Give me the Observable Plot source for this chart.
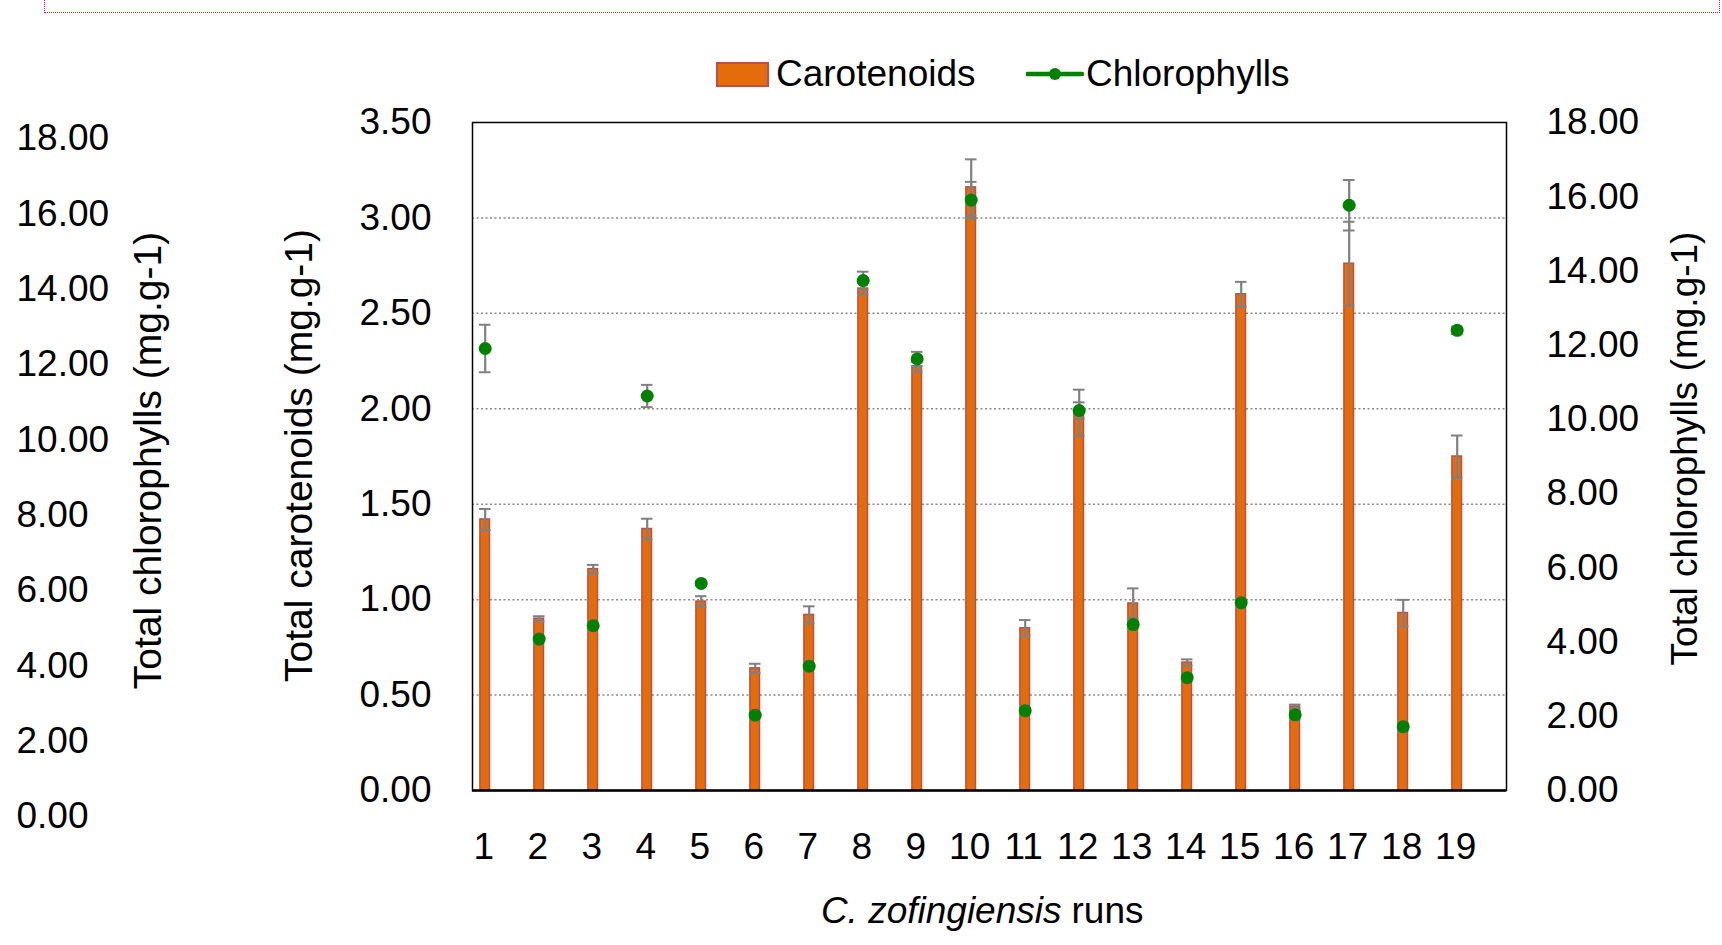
<!DOCTYPE html>
<html>
<head>
<meta charset="utf-8">
<script src="https://cdn.jsdelivr.net/npm/d3@7"></script>
<script src="https://cdn.jsdelivr.net/npm/@observablehq/plot@0.6"></script>
<style>
  html, body { margin: 0; padding: 0; background: white; }
  #wrap { position: relative; width: 1722px; height: 945px; overflow: hidden; font-family: "Liberation Sans", Arial, sans-serif; }
  #redbox { position: absolute; left: 44px; top: -4px; width: 1674px; height: 16px; border: 1.5px dotted #e02020; border-top: none; }
  #legend { position: absolute; left: 0; top: 50px; height: 48px; width: 1722px; font-size: 37px; color: #000; }
  .leg { position: absolute; top: 0; height: 48px; display: flex; align-items: center; white-space: nowrap; }
  #leftaxis { position: absolute; left: 0; top: 0; pointer-events: none; }
  #main { position: absolute; left: 0; top: 0; }
</style>
</head>
<body>
<div id="wrap">
  <div id="main"></div>
  <div id="leftaxis"></div>
  <div id="redbox"></div>
  <div id="legend"></div>
</div>
<script>
// ---- data ----
const runs = [1, 2, 3, 4, 5, 6, 7, 8, 9, 10, 11, 12, 13, 14, 15, 16, 17, 18, 19];
const carotenoids = [1.42, 0.90, 1.16, 1.37, 0.99, 0.64, 0.92, 2.63, 2.22, 3.16, 0.85, 1.98, 0.98, 0.67, 2.60, 0.44, 2.76, 0.93, 1.75];
const carotenoidsErr = [0.055, 0.013, 0.022, 0.054, 0.028, 0.024, 0.045, 0.03, 0.025, 0.147, 0.043, 0.12, 0.079, 0.017, 0.065, 0.01, 0.22, 0.069, 0.11];
const chlorophylls = [11.91, 4.08, 4.44, 10.63, 5.58, 2.03, 3.35, 13.74, 11.63, 15.91, 2.15, 10.24, 4.47, 3.04, 5.06, 2.04, 15.77, 1.72, 12.40];
const chlorophyllsErr = [0.64, 0.05, 0.05, 0.30, 0.05, 0.05, 0.05, 0.24, 0.19, 0.49, 0.05, 0.22, 0.10, 0.05, 0.05, 0.10, 0.68, 0.10, 0.10];
const carTicks = [0, 0.5, 1.0, 1.5, 2.0, 2.5, 3.0, 3.5];
const chlTicks = [0, 2, 4, 6, 8, 10, 12, 14, 16, 18];
const seriesNames = ["Carotenoids", "Chlorophylls"];
const yTitleLeft = "Total carotenoids (mg.g-1)";
const yTitleRight = "Total chlorophylls (mg.g-1)";
const xTitleItalic = "C. zofingiensis";
const xTitleRest = "runs";

const rows = runs.map((r, i) => ({
  run: r,
  car: carotenoids[i], carErr: carotenoidsErr[i],
  chl: chlorophylls[i], chlErr: chlorophyllsErr[i]
}));

const orange = "#e46c0a", barStroke = "#b9504c", green = "#008000", errGray = "#808080";
const chlMax = 18, carMax = 3.5;
const toCar = d3.scaleLinear([0, chlMax], [0, carMax]);
const fmt = d => d.toFixed(2);
const off = -18.3; // offset of the bar within each run slot
const font = { fontFamily: "'Liberation Sans', Arial, sans-serif", fontSize: "37px", color: "#000", background: "transparent", overflow: "visible" };

const capOpts = { x: "run", stroke: errGray, strokeWidth: 2, insetLeft: 2.9, insetRight: 39.5 };

const chart = Plot.plot({
  width: 1722, height: 945,
  marginLeft: 472, marginRight: 216, marginTop: 122, marginBottom: 155,
  style: font,
  x: { type: "band", domain: runs, padding: 0 },
  y: { domain: [0, carMax] },
  marks: [
    Plot.gridY(carTicks.filter(d => d > 0 && d < carMax), { stroke: "#8a8a8a", strokeOpacity: 1, strokeWidth: 1.5, strokeDasharray: "2,2.5" }),
    Plot.barY(rows, { x: "run", y: "car", fill: orange, stroke: barStroke, strokeWidth: 1.5, insetLeft: 3.9, insetRight: 40.5 }),
    Plot.ruleX(rows, { x: "run", y1: d => d.car - d.carErr, y2: d => d.car + d.carErr, dx: off, stroke: errGray, strokeWidth: 2.2 }),
    Plot.tickY(rows, { ...capOpts, y: d => d.car - d.carErr }),
    Plot.tickY(rows, { ...capOpts, y: d => d.car + d.carErr }),
    Plot.ruleX(rows, { x: "run", y1: d => toCar(d.chl - d.chlErr), y2: d => toCar(d.chl + d.chlErr), dx: off, stroke: errGray, strokeWidth: 2.2 }),
    Plot.tickY(rows, { ...capOpts, y: d => toCar(d.chl - d.chlErr) }),
    Plot.tickY(rows, { ...capOpts, y: d => toCar(d.chl + d.chlErr) }),
    Plot.dot(rows, { x: "run", y: d => toCar(d.chl), r: 6.5, fill: green, stroke: "none", dx: off }),
    Plot.frame({ stroke: "#000", strokeWidth: 1.5 }),
    Plot.ruleY([0], { stroke: "#000", strokeWidth: 2.5 }),
    Plot.axisY(carTicks, { anchor: "left", tickSize: 0, tickPadding: 41, tickFormat: fmt, label: null, fill: "#000" }),
    Plot.axisY(chlTicks, { anchor: "right", y: toCar, tickSize: 0, tickPadding: 40, tickFormat: fmt, label: null, fill: "#000" }),
    Plot.axisX({ anchor: "bottom", tickSize: 0, tickPadding: 42, dx: off - 1.5, label: null, fill: "#000" }),
    Plot.text([yTitleLeft], { frameAnchor: "left", dx: -173, dy: -1, rotate: -90, textAnchor: "middle", lineAnchor: "middle", fontSize: 39, fill: "#000" }),
    Plot.text([yTitleRight], { frameAnchor: "right", dx: 179, dy: -8, rotate: -90, textAnchor: "middle", lineAnchor: "middle", fill: "#000" }),
    Plot.text([xTitleItalic], { frameAnchor: "bottom", dx: 72, dy: 121, textAnchor: "end", lineAnchor: "middle", fontStyle: "italic", fill: "#000" }),
    Plot.text([xTitleRest], { frameAnchor: "bottom", dx: 82, dy: 121, textAnchor: "start", lineAnchor: "middle", fill: "#000" })
  ]
});
chart.style.background = "white";
document.getElementById("main").appendChild(chart);

// Detached copy of the chlorophyll axis at the far left (as in the source figure)
const leftAxis = Plot.plot({
  width: 220, height: 945,
  marginLeft: 0, marginRight: 204, marginTop: 138, marginBottom: 129,
  style: font,
  y: { domain: [0, chlMax] },
  marks: [
    Plot.axisY(chlTicks, { anchor: "right", tickSize: 0, tickPadding: 0, tickFormat: fmt, label: null, fill: "#000" }),
    Plot.text([yTitleRight], { frameAnchor: "right", dx: 132, dy: -17, rotate: -90, textAnchor: "middle", lineAnchor: "middle", fontSize: 39, fill: "#000" })
  ]
});
document.getElementById("leftaxis").appendChild(leftAxis);

// Legend
const legend = document.getElementById("legend");
const item1 = document.createElement("div");
item1.className = "leg";
item1.style.left = "716px";
item1.innerHTML = `<span style="display:inline-block;width:49px;height:21px;background:${orange};border:2px solid ${barStroke};margin-right:7px"></span><span>${seriesNames[0]}</span>`;
legend.appendChild(item1);
const item2 = document.createElement("div");
item2.className = "leg";
item2.style.left = "1026px";
item2.innerHTML = `<svg width="58" height="20" style="margin-right:2px"><line x1="1" x2="56" y1="10" y2="10" stroke="${green}" stroke-width="4.5" stroke-linecap="round"/><circle cx="29" cy="10" r="6" fill="${green}"/></svg><span>${seriesNames[1]}</span>`;
legend.appendChild(item2);
</script>
</body>
</html>
